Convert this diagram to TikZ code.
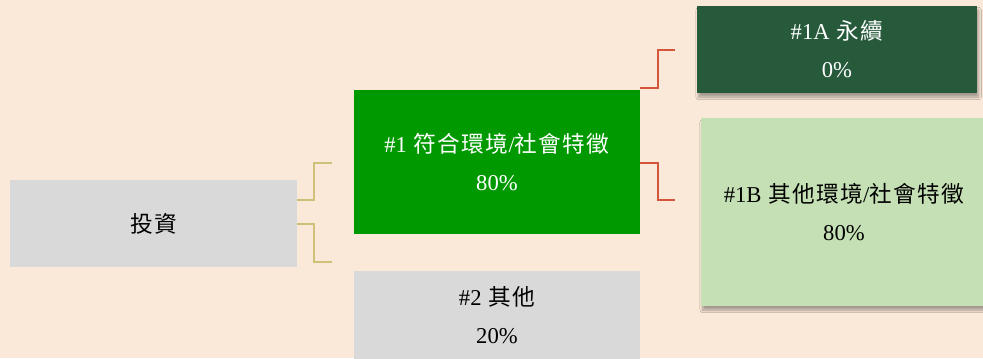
\documentclass[tikz,border=0pt]{standalone}
\usepackage{fontspec}
\setmainfont{Liberation Serif}
\newfontfamily\cjk[LetterSpace=6]{Noto Sans CJK TC}
\usetikzlibrary{calc,shadows.blur}
\definecolor{bgc}{HTML}{FAE8D8}
\definecolor{graybox}{HTML}{D9D9D9}
\definecolor{greenbox}{HTML}{009900}
\definecolor{darkgreen}{HTML}{265A3B}
\definecolor{lightgreen}{HTML}{C5E0B4}
\definecolor{olive}{HTML}{CFC07A}
\definecolor{redline}{HTML}{D4553A}
\newcommand{\gp}{\hspace{0.3em}}
\tikzset{
  box/.style={draw=none, align=center, inner sep=0pt,
    font=\fontsize{17}{28.5}\selectfont},
  shad/.style={blur shadow={shadow xshift=1.2pt, shadow yshift=-3pt, shadow blur radius=2pt, shadow blur steps=8, shadow opacity=35}},
  conn1/.style={draw=olive, line width=1.5pt},
  conn2/.style={draw=redline, line width=1.5pt},
}
\begin{document}
\begin{tikzpicture}[x=0.75pt,y=-0.75pt]
\fill[bgc] (0,0) rectangle (983,358);
\useasboundingbox (0,0) rectangle (983,358);
\node[box, fill=graybox, minimum width=215.25pt, minimum height=65.25pt] (inv) at (153.5,223.5) {{\cjk 投資}};
\node[box, fill=greenbox, text=white, minimum width=214.5pt, minimum height=108pt] (g1) at (497,162) {\#1\gp{\cjk 符合環境}/{\cjk 社會特徵}\\80\%};
\node[box, fill=graybox, minimum width=214.5pt, minimum height=66pt] (g2) at (497,315) {\#2\gp{\cjk 其他}\\20\%};
\node[box, shad, fill=darkgreen, text=white, minimum width=210pt, minimum height=65.25pt] (a1) at (837,49.5) {\#1A\gp{\cjk 永續}\\0\%};
\node[box, shad, fill=lightgreen, minimum width=214.5pt, minimum height=141pt] (b1) at (844,212) {\#1B\gp{\cjk 其他環境}/{\cjk 社會特徵}\\80\%};
\coordinate (c1) at (332,163);
\coordinate (c2) at (332,262);
\coordinate (d1) at (675,50);
\coordinate (d2) at (675,200);
\draw[conn1] (inv.east |- 0,200) -- (314,200) |- (c1);
\draw[conn1] (inv.east |- 0,224) -- (314,224) |- (c2);
\draw[conn2] (g1.east |- 0,88) -- (658,88) |- (d1);
\draw[conn2] (g1.east |- 0,163) -- (658,163) |- (d2);
\end{tikzpicture}
\end{document}
